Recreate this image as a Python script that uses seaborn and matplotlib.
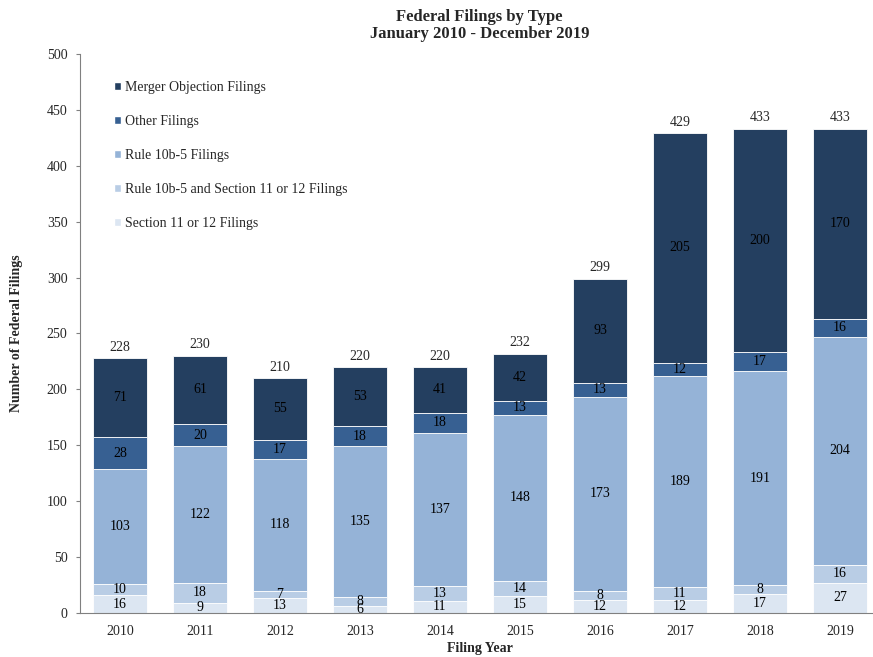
import numpy as np
import pandas as pd
import seaborn as sns
import matplotlib.pyplot as plt
from matplotlib.patches import Patch
from matplotlib.ticker import MultipleLocator, FixedLocator

years = ['2010', '2011', '2012', '2013', '2014', '2015', '2016', '2017', '2018', '2019']
section_11_12 = [16, 9, 13, 6, 11, 15, 12, 12, 17, 27]
rule_and_section = [10, 18, 7, 8, 13, 14, 8, 11, 8, 16]
rule_10b5 = [103, 122, 118, 135, 137, 148, 173, 189, 191, 204]
other = [28, 20, 17, 18, 18, 13, 13, 12, 17, 16]
merger = [71, 61, 55, 53, 41, 42, 93, 205, 200, 170]

series = [
    ('Section 11 or 12 Filings', section_11_12, '#dce6f2'),
    ('Rule 10b-5 and Section 11 or 12 Filings', rule_and_section, '#b9cde5'),
    ('Rule 10b-5 Filings', rule_10b5, '#95b3d7'),
    ('Other Filings', other, '#376092'),
    ('Merger Objection Filings', merger, '#243f60'),
]

sns.set_style("white")
plt.rcParams['font.family'] = ['Liberation Serif', 'DejaVu Serif']

fig = plt.figure(figsize=(8.73, 6.57), dpi=100)
# the source chart is cropped on the right, so the axes run slightly past the edge
ax = fig.add_axes([0.0916, 0.067, 0.9164, 0.851])

bottom = np.zeros(len(years))
for name, vals, col in series:
    df = pd.DataFrame({'year': years, 'n': vals})
    sns.barplot(data=df, x='year', y='n', color=col, saturation=1, width=0.675,
                bottom=bottom, edgecolor='white', linewidth=0.6, ax=ax)
    for i, v in enumerate(vals):
        ax.text(i, bottom[i] + v / 2, str(v), ha='center', va='center',
                fontsize=10, color='black')
    bottom = bottom + np.array(vals)

for i, t in enumerate(bottom):
    ax.text(i, t + 4, str(int(t)), ha='center', va='bottom', fontsize=10)

ax.set_ylim(0, 500)
ax.set_xlim(-0.5, len(years) - 0.5)
ax.yaxis.set_major_locator(MultipleLocator(50))
ax.xaxis.set_minor_locator(FixedLocator(np.arange(-0.5, len(years), 1)))
ax.tick_params(axis='x', which='major', length=0, labelsize=10, pad=9)
ax.tick_params(axis='x', which='minor', length=3, direction='out', color='#808080')
ax.tick_params(axis='y', which='major', length=3, direction='out', labelsize=10,
               color='#808080', left=True, pad=6)
for s in ['top', 'right']:
    ax.spines[s].set_visible(False)
for s in ['left', 'bottom']:
    ax.spines[s].set_color('#808080')

ax.set_xlabel('Filing Year', fontsize=10, fontweight='bold', labelpad=2.5)
ax.set_ylabel('Number of Federal Filings', fontsize=10, fontweight='bold', labelpad=17)
fig.text(0.549, 0.987, 'Federal Filings by Type\nJanuary 2010 - December 2019',
         ha='center', va='top', fontsize=12, fontweight='bold', linespacing=1.1)

handles = [Patch(facecolor=c, label=n) for n, v, c in series][::-1]
ax.legend(handles=handles, loc='upper left', bbox_to_anchor=(0.0275, 0.974), frameon=False,
          fontsize=10, handlelength=0.5, handleheight=0.5, handletextpad=0.25,
          labelspacing=1.51)

fig.savefig('out.png', dpi=100)
